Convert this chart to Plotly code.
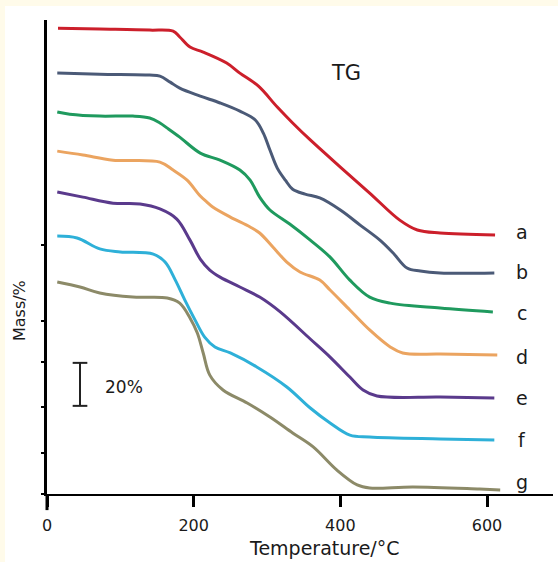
import plotly.graph_objects as go

# Temperature (°C) and offset mass (% units, curves stacked)
T_a = [15, 72, 140, 172, 181, 195, 213, 245, 263, 288, 314, 335, 359, 400, 440, 481, 505, 536, 611]
M_a = [216.7, 216.3, 215.8, 215.3, 212.6, 207.9, 205.6, 200.5, 195.8, 189.8, 180.0, 172.6, 164.7, 152.1, 140.0, 127.4, 122.8, 121.4, 120.5]

T_b = [14, 72, 140, 154, 168, 181, 209, 236, 263, 284, 295, 304, 314, 325, 335, 352, 372, 400, 427, 454, 472, 491, 509, 536, 610]
M_b = [195.8, 195.3, 194.9, 194.4, 191.6, 188.8, 185.1, 181.9, 178.1, 174.0, 167.9, 160.0, 151.6, 146.0, 141.8, 139.5, 137.7, 132.1, 125.1, 118.1, 112.1, 105.1, 103.7, 102.8, 102.8]

T_c = [14, 31, 72, 117, 140, 154, 164, 181, 209, 236, 263, 277, 290, 304, 331, 359, 386, 413, 440, 468, 536, 608]
M_c = [177.7, 176.7, 175.8, 175.8, 174.9, 172.6, 170.2, 166.0, 158.6, 155.3, 150.7, 146.0, 138.1, 132.1, 125.6, 118.1, 110.2, 99.5, 91.6, 88.8, 86.5, 84.7]

T_d = [14, 49, 90, 154, 172, 191, 209, 218, 226, 250, 277, 290, 308, 327, 345, 372, 386, 413, 440, 468, 485, 536, 614]
M_d = [159.5, 157.7, 155.3, 154.4, 150.7, 146.0, 138.6, 135.8, 133.5, 128.8, 124.2, 121.4, 114.9, 107.9, 103.3, 99.5, 94.9, 85.6, 76.3, 68.4, 65.6, 65.1, 64.7]

T_e = [14, 49, 90, 127, 154, 177, 195, 209, 222, 236, 263, 290, 318, 359, 386, 413, 431, 450, 536, 610]
M_e = [140.5, 138.1, 135.3, 134.9, 132.6, 127.9, 118.1, 109.3, 104.2, 100.9, 96.3, 91.6, 84.7, 72.1, 63.7, 54.4, 48.4, 45.6, 45.1, 44.7]

T_f = [14, 41, 72, 100, 145, 161, 175, 188, 202, 215, 229, 250, 286, 327, 359, 386, 413, 440, 536, 610]
M_f = [120.0, 119.1, 114.0, 112.6, 111.6, 107.9, 99.5, 90.2, 80.9, 73.0, 68.4, 65.6, 59.1, 49.8, 40.0, 33.0, 27.4, 26.5, 25.6, 25.1]

T_g = [14, 45, 72, 117, 164, 181, 195, 205, 213, 222, 240, 273, 304, 335, 363, 395, 423, 440, 499, 590, 618]
M_g = [98.6, 96.3, 93.5, 91.6, 91.2, 88.8, 81.9, 74.9, 65.6, 55.3, 48.4, 42.3, 35.8, 28.4, 21.9, 11.2, 4.2, 2.8, 3.3, 2.3, 1.9]

series_names = ["a", "b", "c", "d", "e", "f", "g"]
series_T = [T_a, T_b, T_c, T_d, T_e, T_f, T_g]
series_M = [M_a, M_b, M_c, M_d, M_e, M_f, M_g]
colors = ["#cc1f2b", "#4b5a77", "#1f9a5e", "#eba460", "#5a3a8c", "#2eb0d8", "#8c8a68"]
label_T = 648
label_M = [121.9, 103.3, 84.2, 63.7, 44.7, 25.1, 5.6]

x_ticks = [0, 200, 400, 600]
y_ticks = [0, 19, 40.5, 61.5, 80.5, 116]

scale_T = 45
scale_low = 41
scale_span = 20  # 20 %

FONT = "DejaVu Sans, Verdana, sans-serif"

fig = go.Figure()
for name, T, M, c in zip(series_names, series_T, series_M, colors):
    fig.add_trace(go.Scatter(x=T, y=M, mode="lines", name=name,
                             line=dict(color=c, width=3, shape="spline", smoothing=1.0),
                             showlegend=False, hoverinfo="skip"))

annotations = []
for name, ly in zip(series_names, label_M):
    annotations.append(dict(x=label_T, y=ly, xref="x", yref="y", text=name, showarrow=False,
                            font=dict(family=FONT, size=19, color="#1a1a1a"),
                            xanchor="center", yanchor="middle"))
annotations.append(dict(x=408, y=195.8, xref="x", yref="y", text="TG", showarrow=False,
                        font=dict(family=FONT, size=21, color="#1a1a1a")))
annotations.append(dict(x=77, y=scale_low + scale_span / 2 - 1, xref="x", yref="y", text="20%",
                        showarrow=False, xanchor="left",
                        font=dict(family=FONT, size=17, color="#1a1a1a")))
annotations.append(dict(x=0.549, y=-0.114, xref="paper", yref="paper", text="Temperature/°C",
                        showarrow=False, xanchor="center", yanchor="middle",
                        font=dict(family=FONT, size=19, color="#1a1a1a")))
annotations.append(dict(x=-0.0553, y=0.386, xref="paper", yref="paper", text="Mass/%",
                        showarrow=False, textangle=-90, xanchor="center", yanchor="middle",
                        font=dict(family=FONT, size=16, color="#1a1a1a")))

shapes = [
    # white page inside the cream border (border visible at top and left)
    dict(type="rect", xref="paper", yref="paper", x0=-0.083, x1=1.02, y0=-0.16, y1=1.0295,
         fillcolor="white", line=dict(width=0), layer="below"),
    # y axis extension below the x axis
    dict(type="line", xref="paper", yref="paper", x0=0, x1=0, y0=0, y1=-0.034,
         line=dict(color="black", width=3)),
    # 20 % scale bar
    dict(type="line", xref="x", yref="y", x0=scale_T, x1=scale_T, y0=scale_low, y1=scale_low + scale_span,
         line=dict(color="#222", width=2)),
    dict(type="line", xref="x", yref="y", x0=scale_T - 10, x1=scale_T + 10, y0=scale_low, y1=scale_low,
         line=dict(color="#222", width=2)),
    dict(type="line", xref="x", yref="y", x0=scale_T - 10, x1=scale_T + 10,
         y0=scale_low + scale_span, y1=scale_low + scale_span, line=dict(color="#222", width=2)),
]

fig.update_layout(
    width=558, height=562, autosize=False,
    margin=dict(l=47, r=5, t=20, b=68),
    paper_bgcolor="#fffbea", plot_bgcolor="rgba(0,0,0,0)",
    annotations=annotations, shapes=shapes,
    xaxis=dict(range=[0, 690], showgrid=False, zeroline=False, showline=True,
               linecolor="black", linewidth=2, ticks="outside", ticklen=11, tickwidth=3,
               tickcolor="black", tickvals=x_ticks, ticktext=[str(v) for v in x_ticks],
               tickfont=dict(family=FONT, size=16, color="#1a1a1a"), ticklabelstandoff=5),
    yaxis=dict(range=[0, 220.5], showgrid=False, zeroline=False, showline=True,
               linecolor="black", linewidth=3, ticks="outside", ticklen=3, tickwidth=2,
               tickcolor="black", tickvals=y_ticks, showticklabels=False),
)

fig.write_html("out.html", config={"displayModeBar": False},
               post_script="document.body.style.margin='0';document.body.style.overflow='hidden';")
